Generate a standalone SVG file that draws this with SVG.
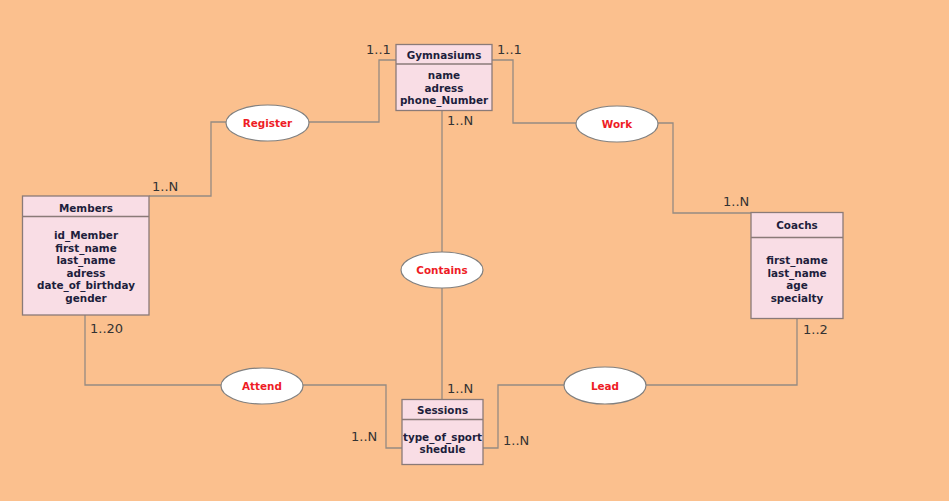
<svg xmlns="http://www.w3.org/2000/svg" width="949" height="501" viewBox="0 0 949 501">
<style>
.bg{fill:#fbc08e}
.box{fill:#f9dde5;stroke:#8a7a78;stroke-width:1.3}
.div{stroke:#8a7a78;stroke-width:1.3}
.t{font-family:"DejaVu Sans",Verdana,sans-serif;font-weight:bold;font-size:10.4px;fill:#1e1e3c;text-anchor:middle}
.rel{fill:#ffffff;stroke:#808080;stroke-width:1.2}
.rt{font-family:"DejaVu Sans",Verdana,sans-serif;font-weight:bold;font-size:10.4px;fill:#ee1c25;text-anchor:middle}
.c{font-family:"DejaVu Sans",Verdana,sans-serif;font-size:13px;fill:#333333}
.ln{fill:none;stroke:#958a82;stroke-width:1.3}
</style>
<rect class="bg" x="0" y="0" width="949" height="501"/>
<g id="connectors">
<polyline class="ln" points="396,60 379,60 379,122 309,122"/>
<polyline class="ln" points="226,122 211,122 211,196 149,196"/>
<polyline class="ln" points="492,60 513,60 513,123 576,123"/>
<polyline class="ln" points="658,123 673,123 673,213 751,213"/>
<polyline class="ln" points="442,111 442,252"/>
<polyline class="ln" points="442,288 442,399"/>
<polyline class="ln" points="85,315 85,385 221,385"/>
<polyline class="ln" points="303,385 386,385 386,448 402,448"/>
<polyline class="ln" points="483,448 498,448 498,385 564,385"/>
<polyline class="ln" points="646,385 797,385 797,318"/>
</g>
<g id="Gymnasiums">
<rect class="box" x="396" y="44.5" width="96" height="66"/>
<line class="div" x1="396" y1="64" x2="492" y2="64"/>
<text class="t" x="444" y="59">Gymnasiums</text>
<text class="t" x="444" y="79">name</text>
<text class="t" x="444" y="91.5">adress</text>
<text class="t" x="444" y="104">phone_Number</text>
</g>
<g id="Members">
<rect class="box" x="22.5" y="196" width="126.5" height="119"/>
<line class="div" x1="22.5" y1="216.5" x2="149" y2="216.5"/>
<text class="t" x="86" y="211.5">Members</text>
<text class="t" x="86" y="239">id_Member</text>
<text class="t" x="86" y="251.5">first_name</text>
<text class="t" x="86" y="264">last_name</text>
<text class="t" x="86" y="276.5">adress</text>
<text class="t" x="86" y="289">date_of_birthday</text>
<text class="t" x="86" y="301.5">gender</text>
</g>
<g id="Coachs">
<rect class="box" x="751" y="212.5" width="92" height="106"/>
<line class="div" x1="751" y1="237.5" x2="843" y2="237.5"/>
<text class="t" x="797" y="229">Coachs</text>
<text class="t" x="797" y="264">first_name</text>
<text class="t" x="797" y="276.5">last_name</text>
<text class="t" x="797" y="289">age</text>
<text class="t" x="797" y="302">specialty</text>
</g>
<g id="Sessions">
<rect class="box" x="402" y="399.5" width="81" height="65"/>
<line class="div" x1="402" y1="419.5" x2="483" y2="419.5"/>
<text class="t" x="442.5" y="414">Sessions</text>
<text class="t" x="442.5" y="440.5">type_of_sport</text>
<text class="t" x="442.5" y="453">shedule</text>
</g>
<g id="Register">
<ellipse class="rel" cx="267.5" cy="123" rx="41.5" ry="18"/>
<text class="rt" x="267.5" y="127">Register</text>
</g>
<g id="Work">
<ellipse class="rel" cx="617" cy="124" rx="41" ry="18"/>
<text class="rt" x="617" y="128">Work</text>
</g>
<g id="Contains">
<ellipse class="rel" cx="442" cy="270" rx="41" ry="18"/>
<text class="rt" x="442" y="274">Contains</text>
</g>
<g id="Attend">
<ellipse class="rel" cx="262" cy="386" rx="41" ry="18"/>
<text class="rt" x="262" y="390">Attend</text>
</g>
<g id="Lead">
<ellipse class="rel" cx="605" cy="385.5" rx="41" ry="18.5"/>
<text class="rt" x="605" y="389.5">Lead</text>
</g>
<g id="cardinalities">
<text class="c" x="366" y="54">1..1</text>
<text class="c" x="497" y="54">1..1</text>
<text class="c" x="447" y="125">1..N</text>
<text class="c" x="152" y="191">1..N</text>
<text class="c" x="723" y="206">1..N</text>
<text class="c" x="90" y="333">1..20</text>
<text class="c" x="803" y="334">1..2</text>
<text class="c" x="447" y="393">1..N</text>
<text class="c" x="351" y="441">1..N</text>
<text class="c" x="503" y="445">1..N</text>
</g>
</svg>
